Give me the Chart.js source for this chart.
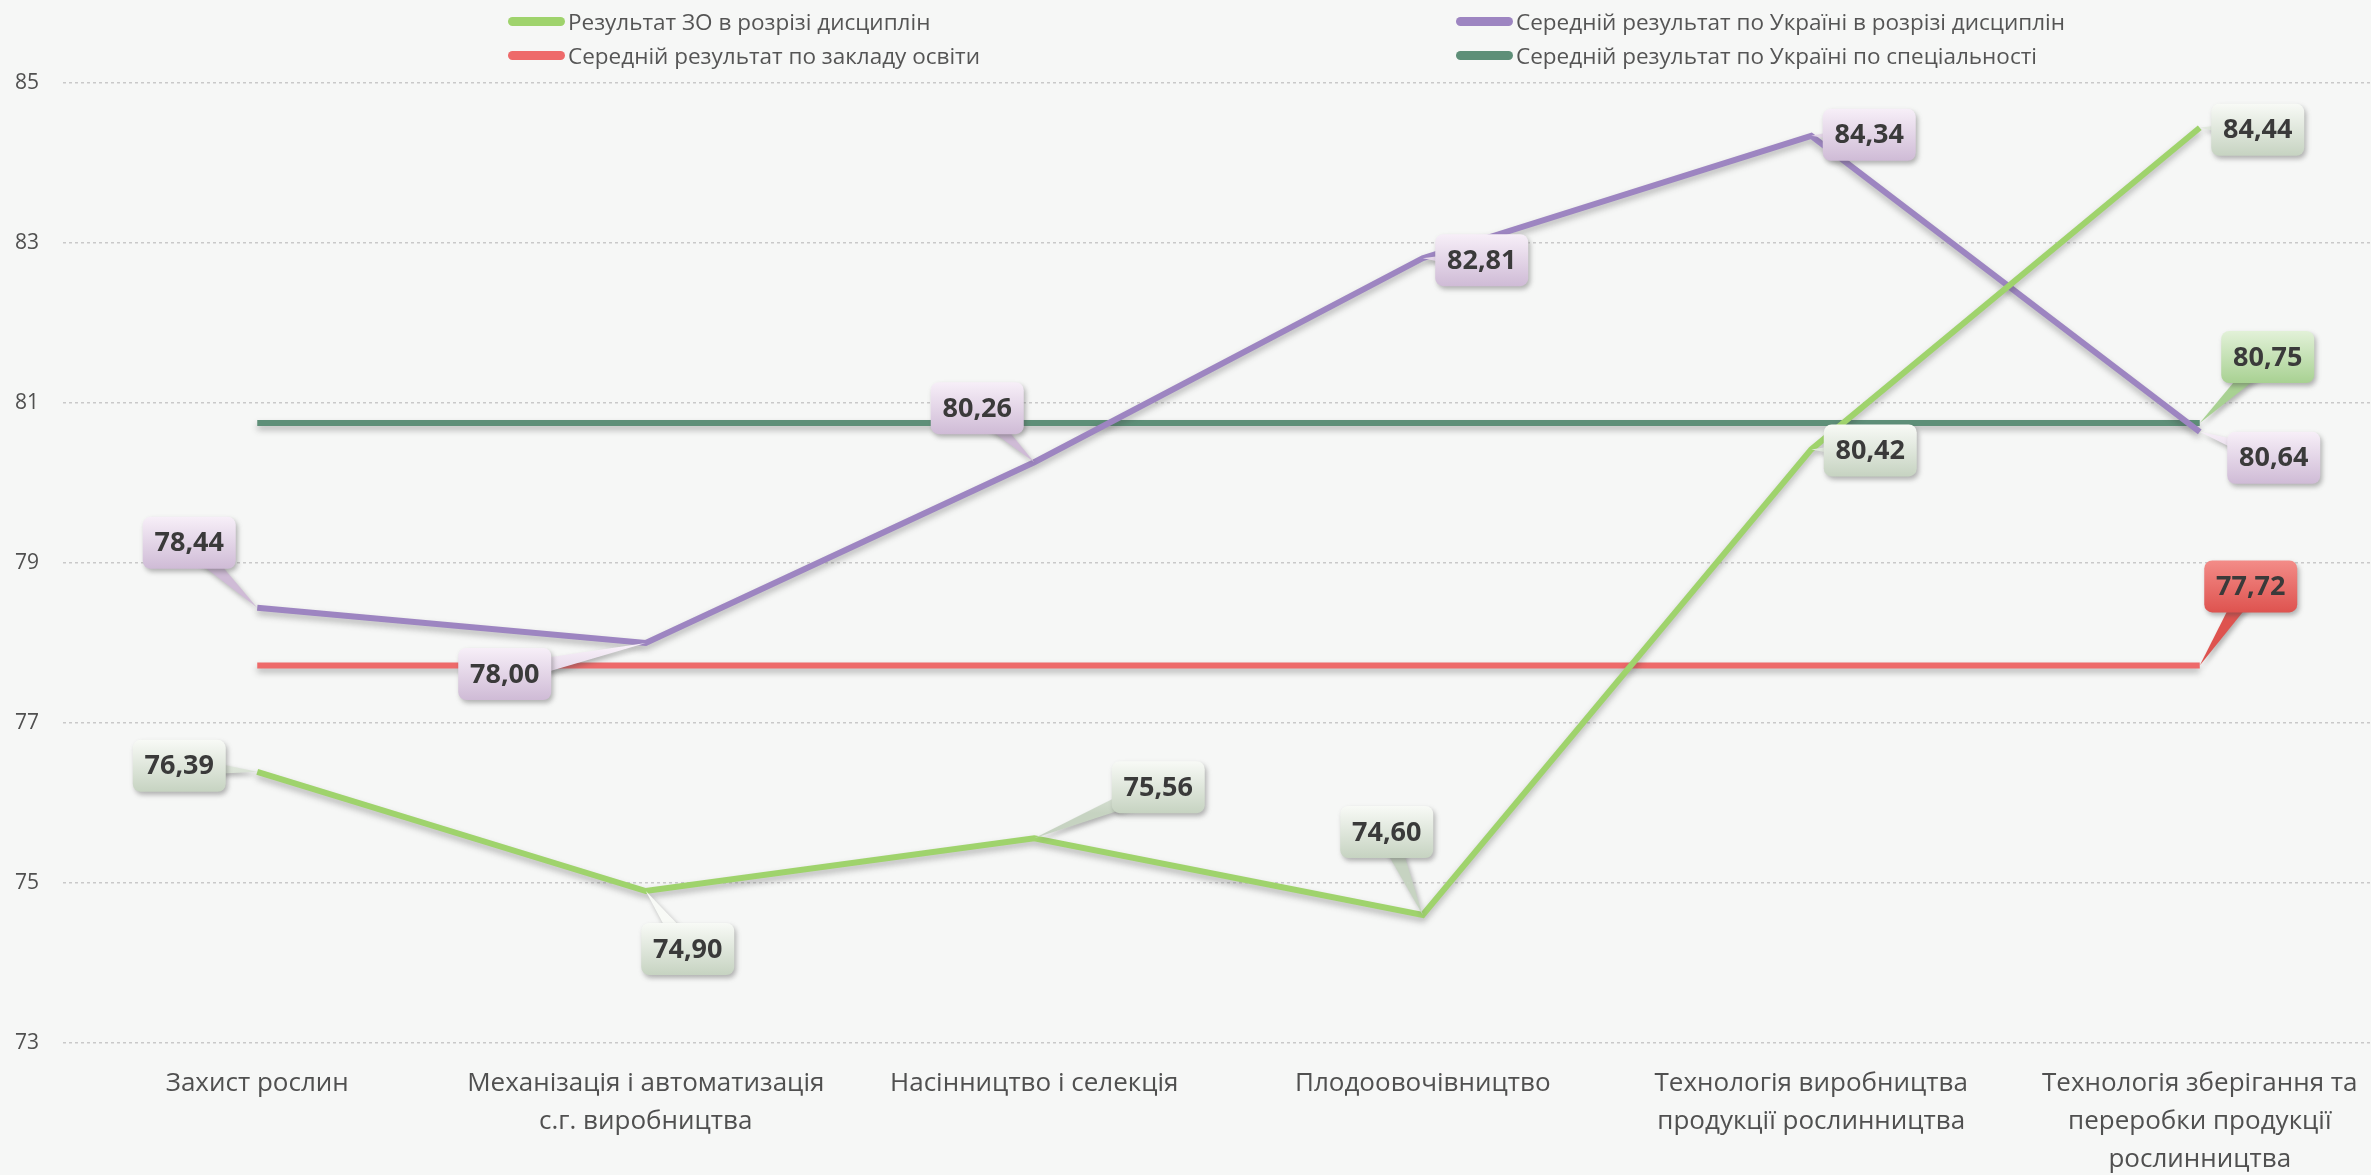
<!DOCTYPE html>
<html>
<head>
<meta charset="utf-8">
<script src="https://cdn.jsdelivr.net/npm/chart.js@4/dist/chart.umd.min.js"></script>
<style>
  html, body { margin: 0; padding: 0; background: #f6f7f6; overflow: hidden; }
  #wrap { position: absolute; left: 0; top: 0; width: 2400px; height: 1175px; }
  .lg { position: absolute; font-family: "Open Sans", sans-serif; font-size: 22.5px; color: #555555; white-space: nowrap; line-height: 30px; }
  .lg i { display: inline-block; width: 57px; height: 9px; border-radius: 5px; vertical-align: middle; margin-right: 3px; position: relative; top: -2px; }
</style>
</head>
<body>
<div id="wrap">
  <canvas id="myChart" width="2400" height="1175"></canvas>
</div>
<div class="lg" style="left:508px; top:7px"><i style="background:#9fd36c"></i>Результат ЗО в розрізі дисциплін</div>
<div class="lg" style="left:508px; top:41px"><i style="background:#ee6a6a"></i>Середній результат по закладу освіти</div>
<div class="lg" style="left:1456px; top:7px"><i style="background:#9d85c1"></i>Середній результат по Україні в розрізі дисциплін</div>
<div class="lg" style="left:1456px; top:41px"><i style="background:#5e8f78"></i>Середній результат по Україні по спеціальності</div>
<script>
// Data
const categories = [
  "Захист рослин",
  ["Механізація і автоматизація", "с.г. виробництва"],
  "Насінництво і селекція",
  "Плодоовочівництво",
  ["Технологія виробництва", "продукції рослинництва"],
  ["Технологія зберігання та", "переробки продукції", "рослинництва"],
];
const zoResult = [76.39, 74.90, 75.56, 74.60, 80.42, 84.44];
const uaByDiscipline = [78.44, 78.00, 80.26, 82.81, 84.34, 80.64];
const institutionAvg = [77.72, 77.72, 77.72, 77.72, 77.72, 77.72];
const uaBySpecialty = [80.75, 80.75, 80.75, 80.75, 80.75, 80.75];
const yTicks = [73, 75, 77, 79, 81, 83, 85];

// where each callout box sits, relative to its point (null = no label)
const calloutOffsets = [
  [[-78, -6], [42, 58], [124, -51], [-36, -83], [59, 1], [58, 2]],
  [[-68, -65], [-141, 31], [-57, -54], [59, 2], [58, -1], [74, 26]],
  [null, null, null, null, null, [51, -79]],
  [null, null, null, null, null, [68, -66]],
];
const calloutFills = [
  ["#f8faf6", "#c6d3c1"],
  ["#f7eff8", "#cfbbd6"],
  ["#f38c88", "#de534f"],
  ["#e2f1d8", "#a8d192"],
];

const lineShadow = {
  id: "lineShadow",
  beforeDatasetDraw(chart) {
    const ctx = chart.ctx;
    ctx.save();
    ctx.shadowColor = "rgba(60,60,60,0.35)";
    ctx.shadowBlur = 6;
    ctx.shadowOffsetY = 4;
  },
  afterDatasetDraw(chart) {
    chart.ctx.restore();
  },
};

const callouts = {
  id: "callouts",
  afterDatasetsDraw(chart) {
    const ctx = chart.ctx;
    const w = 93, h = 52;
    chart.data.datasets.forEach((ds, di) => {
      const meta = chart.getDatasetMeta(di);
      meta.data.forEach((pt, i) => {
        const off = calloutOffsets[di][i];
        if (!off) return;
        const cx = pt.x + off[0], cy = pt.y + off[1];
        const dx = pt.x - cx, dy = pt.y - cy;
        const len = Math.hypot(dx, dy) || 1;
        const px = -dy / len * 10, py = dx / len * 10;
        const grad = ctx.createLinearGradient(0, cy - h / 2, 0, cy + h / 2);
        grad.addColorStop(0, calloutFills[di][0]);
        grad.addColorStop(1, calloutFills[di][1]);
        ctx.save();
        ctx.shadowColor = "rgba(70,70,70,0.4)";
        ctx.shadowBlur = 5;
        ctx.shadowOffsetX = 2;
        ctx.shadowOffsetY = 3;
        ctx.fillStyle = grad;
        ctx.beginPath();
        ctx.moveTo(cx + px, cy + py);
        ctx.lineTo(pt.x, pt.y);
        ctx.lineTo(cx - px, cy - py);
        ctx.closePath();
        ctx.fill();
        ctx.beginPath();
        ctx.roundRect(cx - w / 2, cy - h / 2, w, h, 8);
        ctx.fill();
        ctx.restore();
        ctx.save();
        ctx.fillStyle = "#3a3a3a";
        ctx.font = "bold 27px 'Open Sans'";
        ctx.textAlign = "center";
        ctx.textBaseline = "middle";
        ctx.fillText(ds.data[i].toFixed(2).replace(".", ","), cx, cy + 1);
        ctx.restore();
      });
    });
  },
};

const data = {
  labels: categories,
  datasets: [
    { label: "Результат ЗО в розрізі дисциплін", data: zoResult, borderColor: "#9fd36c" },
    { label: "Середній результат по Україні в розрізі дисциплін", data: uaByDiscipline, borderColor: "#9d85c1" },
    { label: "Середній результат по закладу освіти", data: institutionAvg, borderColor: "#ee6a6a" },
    { label: "Середній результат по Україні по спеціальності", data: uaBySpecialty, borderColor: "#5e8f78" },
  ],
};

const options = {
  responsive: false,
  animation: false,
  layout: { padding: { top: 83, right: 6, left: 0, bottom: 0 } },
  elements: {
    line: { borderWidth: 6, tension: 0, fill: false },
    point: { radius: 0, hoverRadius: 0 },
  },
  plugins: { legend: { display: false }, tooltip: { enabled: false } },
  scales: {
    x: {
      offset: true,
      grid: { display: false },
      border: { display: false },
      ticks: {
        color: "#505050",
        font: { family: "Open Sans", size: 26, lineHeight: 1.45 },
        padding: 14,
        maxRotation: 0,
        autoSkip: false,
      },
      afterFit(scale) { scale.height = 132; },
    },
    y: {
      min: 73,
      max: 85,
      afterBuildTicks(scale) { scale.ticks = yTicks.map(v => ({ value: v })); },
      grid: { color: "#c9c9c9", lineWidth: 1.5, drawTicks: false },
      border: { display: false, dash: [3, 3] },
      ticks: {
        color: "#505050",
        font: { family: "Open Sans", size: 21 },
        padding: 24,
      },
      afterFit(scale) { scale.width = 63; },
    },
  },
};

const config = { type: "line", data, options, plugins: [lineShadow, callouts] };

const myChart = new Chart(document.getElementById("myChart"), config);
</script>
</body>
</html>
